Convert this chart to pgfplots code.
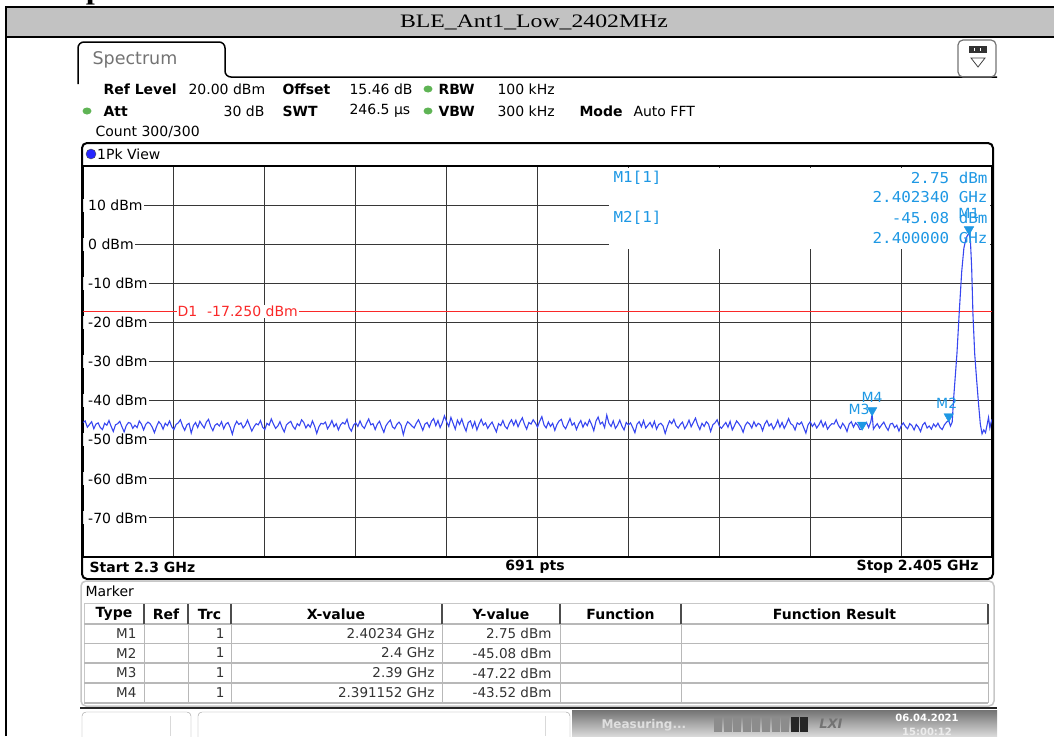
\documentclass[border=0pt]{standalone}
\usepackage{pgfplots}
\pgfplotsset{compat=1.18}
\usepackage{pgfplotstable}
\usepackage{fontspec}
\setmainfont{DejaVu Sans}
\newfontfamily\monofont[FakeStretch=1.06]{DejaVu Sans Mono}
\newfontfamily\titlefont[FakeStretch=1.25]{Liberation Serif}
\definecolor{mblue}{RGB}{30,152,228}
\definecolor{tracec}{RGB}{55,70,240}
\definecolor{gridc}{RGB}{55,55,55}
\definecolor{dred}{RGB}{250,40,40}
\definecolor{ledgreen}{RGB}{95,180,85}
\newcommand{\fs}[1]{\fontsize{#1}{#1}\selectfont}

% trace 1 (1Pk View), frequency in MHz, level in dBm
\pgfplotstableread[row sep=\\]{
f p\\
2300.00 -45.6\\ 2300.25 -45.2\\ 2300.50 -46.8\\ 2300.75 -46.1\\ 2301.00 -45.4\\ 2301.25 -47.2\\ 2301.50 -46.0\\ 2301.75 -45.7\\
2302.00 -46.9\\ 2302.25 -47.4\\ 2302.50 -45.8\\ 2302.75 -46.3\\ 2303.00 -45.1\\ 2303.25 -46.6\\ 2303.50 -47.9\\ 2303.75 -46.2\\
2304.00 -45.9\\ 2304.25 -45.3\\ 2304.50 -46.7\\ 2304.75 -48.0\\ 2305.00 -46.4\\ 2305.25 -45.6\\ 2305.50 -45.8\\ 2305.75 -47.1\\
2306.00 -46.3\\ 2306.25 -46.9\\ 2306.50 -45.2\\ 2306.75 -46.0\\ 2307.00 -47.5\\ 2307.25 -46.1\\ 2307.50 -45.5\\ 2307.75 -45.9\\
2308.00 -46.8\\ 2308.25 -48.2\\ 2308.50 -46.6\\ 2308.75 -45.4\\ 2309.00 -46.0\\ 2309.25 -47.3\\ 2309.50 -45.8\\ 2309.75 -46.4\\
2310.00 -45.2\\ 2310.25 -46.7\\ 2310.50 -47.4\\ 2310.75 -46.1\\ 2311.00 -45.7\\ 2311.25 -44.9\\ 2311.50 -46.5\\ 2311.75 -47.6\\
2312.00 -46.2\\ 2312.25 -45.8\\ 2312.50 -48.3\\ 2312.75 -46.4\\ 2313.00 -45.6\\ 2313.25 -46.9\\ 2313.50 -45.3\\ 2313.75 -46.2\\
2314.00 -47.0\\ 2314.25 -45.5\\ 2314.50 -44.8\\ 2314.75 -46.6\\ 2315.00 -47.7\\ 2315.25 -46.3\\ 2315.50 -45.9\\ 2315.75 -46.5\\
2316.00 -45.4\\ 2316.25 -47.2\\ 2316.50 -46.0\\ 2316.75 -45.6\\ 2317.00 -46.8\\ 2317.25 -48.6\\ 2317.50 -46.5\\ 2317.75 -45.3\\
2318.00 -46.1\\ 2318.25 -45.7\\ 2318.50 -47.0\\ 2318.75 -46.3\\ 2319.00 -45.0\\ 2319.25 -46.4\\ 2319.50 -47.8\\ 2319.75 -46.7\\
2320.00 -45.9\\ 2320.25 -46.2\\ 2320.50 -45.1\\ 2320.75 -46.8\\ 2321.00 -47.4\\ 2321.25 -45.8\\ 2321.50 -46.3\\ 2321.75 -44.7\\
2322.00 -46.0\\ 2322.25 -47.1\\ 2322.50 -46.5\\ 2322.75 -45.4\\ 2323.00 -46.9\\ 2323.25 -48.0\\ 2323.50 -46.2\\ 2323.75 -45.7\\
2324.00 -45.3\\ 2324.25 -46.6\\ 2324.50 -47.3\\ 2324.75 -45.9\\ 2325.00 -46.4\\ 2325.25 -44.9\\ 2325.50 -45.6\\ 2325.75 -47.0\\
2326.00 -46.1\\ 2326.25 -46.8\\ 2326.50 -45.2\\ 2326.75 -46.5\\ 2327.00 -48.4\\ 2327.25 -46.7\\ 2327.50 -45.8\\ 2327.75 -46.0\\
2328.00 -45.5\\ 2328.25 -47.2\\ 2328.50 -46.3\\ 2328.75 -45.1\\ 2329.00 -46.7\\ 2329.25 -45.9\\ 2329.50 -47.5\\ 2329.75 -46.2\\
2330.00 -45.6\\ 2330.25 -46.0\\ 2330.50 -44.8\\ 2330.75 -46.9\\ 2331.00 -47.8\\ 2331.25 -46.3\\ 2331.50 -45.7\\ 2331.75 -46.6\\
2332.00 -45.2\\ 2332.25 -46.5\\ 2332.50 -47.1\\ 2332.75 -45.8\\ 2333.00 -44.7\\ 2333.25 -46.2\\ 2333.50 -45.9\\ 2333.75 -47.4\\
2334.00 -46.0\\ 2334.25 -45.3\\ 2334.50 -46.8\\ 2334.75 -48.1\\ 2335.00 -46.4\\ 2335.25 -45.6\\ 2335.50 -45.0\\ 2335.75 -46.7\\
2336.00 -47.2\\ 2336.25 -46.1\\ 2336.50 -45.5\\ 2336.75 -46.3\\ 2337.00 -48.7\\ 2337.25 -46.6\\ 2337.50 -45.4\\ 2337.75 -45.9\\
2338.00 -46.5\\ 2338.25 -47.0\\ 2338.50 -45.8\\ 2338.75 -44.9\\ 2339.00 -46.2\\ 2339.25 -47.6\\ 2339.50 -46.0\\ 2339.75 -45.6\\
2340.00 -46.8\\ 2340.25 -45.3\\ 2340.50 -44.6\\ 2340.75 -46.4\\ 2341.00 -45.1\\ 2341.25 -46.9\\ 2341.50 -45.7\\ 2341.75 -43.9\\
2342.00 -45.4\\ 2342.25 -46.6\\ 2342.50 -44.3\\ 2342.75 -45.8\\ 2343.00 -47.3\\ 2343.25 -45.0\\ 2343.50 -46.1\\ 2343.75 -44.7\\
2344.00 -46.5\\ 2344.25 -47.8\\ 2344.50 -45.6\\ 2344.75 -45.2\\ 2345.00 -46.9\\ 2345.25 -45.4\\ 2345.50 -47.5\\ 2345.75 -46.0\\
2346.00 -44.8\\ 2346.25 -46.3\\ 2346.50 -45.7\\ 2346.75 -47.1\\ 2347.00 -46.2\\ 2347.25 -45.5\\ 2347.50 -46.8\\ 2347.75 -48.0\\
2348.00 -45.9\\ 2348.25 -46.4\\ 2348.50 -45.1\\ 2348.75 -46.6\\ 2349.00 -47.2\\ 2349.25 -45.8\\ 2349.50 -44.9\\ 2349.75 -46.3\\
2350.00 -45.0\\ 2350.25 -46.7\\ 2350.50 -45.4\\ 2350.75 -44.4\\ 2351.00 -46.1\\ 2351.25 -47.3\\ 2351.50 -45.6\\ 2351.75 -46.0\\
2352.00 -44.9\\ 2352.25 -45.7\\ 2352.50 -46.8\\ 2352.75 -45.3\\ 2353.00 -44.1\\ 2353.25 -46.2\\ 2353.50 -47.0\\ 2353.75 -45.5\\
2354.00 -46.6\\ 2354.25 -45.8\\ 2354.50 -47.6\\ 2354.75 -46.1\\ 2355.00 -45.2\\ 2355.25 -44.8\\ 2355.50 -46.5\\ 2355.75 -47.2\\
2356.00 -45.9\\ 2356.25 -44.6\\ 2356.50 -46.3\\ 2356.75 -45.7\\ 2357.00 -47.4\\ 2357.25 -46.0\\ 2357.50 -45.1\\ 2357.75 -46.8\\
2358.00 -45.6\\ 2358.25 -46.4\\ 2358.50 -44.9\\ 2358.75 -46.1\\ 2359.00 -47.7\\ 2359.25 -45.3\\ 2359.50 -44.2\\ 2359.75 -46.0\\
2360.00 -45.5\\ 2360.25 -46.9\\ 2360.50 -43.7\\ 2360.75 -45.8\\ 2361.00 -46.6\\ 2361.25 -45.2\\ 2361.50 -47.1\\ 2361.75 -46.3\\
2362.00 -45.0\\ 2362.25 -46.5\\ 2362.50 -47.5\\ 2362.75 -45.6\\ 2363.00 -46.2\\ 2363.25 -45.7\\ 2363.50 -46.9\\ 2363.75 -48.2\\
2364.00 -46.0\\ 2364.25 -45.4\\ 2364.50 -46.7\\ 2364.75 -45.1\\ 2365.00 -47.0\\ 2365.25 -46.3\\ 2365.50 -45.6\\ 2365.75 -46.8\\
2366.00 -45.3\\ 2366.25 -47.3\\ 2366.50 -46.1\\ 2366.75 -45.8\\ 2367.00 -46.5\\ 2367.25 -48.4\\ 2367.50 -46.6\\ 2367.75 -45.2\\
2368.00 -45.9\\ 2368.25 -44.8\\ 2368.50 -46.4\\ 2368.75 -47.0\\ 2369.00 -46.1\\ 2369.25 -45.5\\ 2369.50 -47.2\\ 2369.75 -46.3\\
2370.00 -45.0\\ 2370.25 -46.7\\ 2370.50 -45.6\\ 2370.75 -44.5\\ 2371.00 -46.2\\ 2371.25 -47.4\\ 2371.50 -45.8\\ 2371.75 -46.6\\
2372.00 -45.4\\ 2372.25 -46.0\\ 2372.50 -47.9\\ 2372.75 -46.2\\ 2373.00 -45.7\\ 2373.25 -44.9\\ 2373.50 -46.5\\ 2373.75 -47.1\\
2374.00 -46.3\\ 2374.25 -45.6\\ 2374.50 -46.8\\ 2374.75 -45.3\\ 2375.00 -47.5\\ 2375.25 -46.4\\ 2375.50 -45.2\\ 2375.75 -45.9\\
2376.00 -46.7\\ 2376.25 -48.1\\ 2376.50 -46.3\\ 2376.75 -45.5\\ 2377.00 -46.0\\ 2377.25 -47.0\\ 2377.50 -45.4\\ 2377.75 -46.6\\
2378.00 -45.8\\ 2378.25 -46.2\\ 2378.50 -47.7\\ 2378.75 -46.0\\ 2379.00 -45.1\\ 2379.25 -46.5\\ 2379.50 -45.9\\ 2379.75 -47.3\\
2380.00 -46.4\\ 2380.25 -45.0\\ 2380.50 -46.8\\ 2380.75 -45.6\\ 2381.00 -47.1\\ 2381.25 -46.0\\ 2381.50 -44.6\\ 2381.75 -45.9\\
2382.00 -46.3\\ 2382.25 -47.5\\ 2382.50 -45.7\\ 2382.75 -46.1\\ 2383.00 -45.5\\ 2383.25 -46.9\\ 2383.50 -48.3\\ 2383.75 -46.2\\
2384.00 -45.4\\ 2384.25 -46.6\\ 2384.50 -45.8\\ 2384.75 -47.0\\ 2385.00 -46.2\\ 2385.25 -45.1\\ 2385.50 -46.7\\ 2385.75 -45.6\\
2386.00 -47.3\\ 2386.25 -46.5\\ 2386.50 -45.9\\ 2386.75 -46.0\\ 2387.00 -44.9\\ 2387.25 -46.3\\ 2387.50 -47.1\\ 2387.75 -45.8\\
2388.00 -46.6\\ 2388.25 -47.9\\ 2388.50 -46.0\\ 2388.75 -45.4\\ 2389.00 -46.8\\ 2389.25 -45.7\\ 2389.50 -46.3\\ 2389.75 -47.4\\
2390.00 -47.22\\ 2390.25 -46.3\\ 2390.50 -45.6\\ 2390.75 -46.9\\ 2391.00 -45.4\\ 2391.152 -43.52\\ 2391.30 -47.3\\ 2391.50 -46.6\\ 2391.75 -45.9\\
2392.00 -47.0\\ 2392.25 -46.2\\ 2392.50 -45.5\\ 2392.75 -46.7\\ 2393.00 -47.6\\ 2393.25 -46.0\\ 2393.50 -45.8\\ 2393.75 -46.9\\
2394.00 -46.3\\ 2394.25 -47.8\\ 2394.50 -46.5\\ 2394.75 -45.7\\ 2395.00 -46.6\\ 2395.25 -47.2\\ 2395.50 -45.9\\ 2395.75 -46.4\\
2396.00 -47.5\\ 2396.25 -46.1\\ 2396.50 -46.8\\ 2396.75 -47.9\\ 2397.00 -46.2\\ 2397.25 -45.6\\ 2397.50 -47.0\\ 2397.75 -46.5\\
2398.00 -47.3\\ 2398.25 -46.0\\ 2398.50 -46.7\\ 2398.75 -45.8\\ 2399.00 -46.9\\ 2399.25 -47.4\\ 2399.50 -46.2\\ 2399.75 -45.5\\
2400.0 -45.08\\ 2400.2 -46.5\\ 2400.4 -45.5\\ 2400.55 -40\\ 2400.75 -34\\ 2400.95 -28\\ 2401.2 -18\\ 2401.5 -7\\ 2401.75 -1\\ 2402.0 1.5\\
2402.2 2.4\\ 2402.34 2.75\\ 2402.5 1.2\\ 2402.65 -6\\ 2402.8 -18\\ 2403.0 -28\\ 2403.2 -34\\ 2403.45 -41\\ 2403.65 -46\\ 2403.85 -48.5\\
2404.05 -47.5\\ 2404.25 -48.2\\ 2404.45 -46.0\\ 2404.6 -44.3\\ 2404.75 -47.0\\ 2404.9 -45.5\\ 2405.0 -44.8\\
}\tracedata

\begin{document}
\begin{tikzpicture}[x=1pt,y=-1pt]
\useasboundingbox (0,0) rectangle (1054,736);
\clip (0,0) rectangle (1054,736);

% document table cell
\node[anchor=base, inner sep=0, font=\titlefont\bfseries\fs{26}] at (95,-1) {p};
\fill[black!24] (6,7) rectangle (1054,37);
\node[font=\titlefont\fs{19}] at (534,22) {BLE\_Ant1\_Low\_2402MHz};
\draw[line width=2pt] (6,736) -- (6,7) -- (1054,7);
\draw[line width=2pt] (6,37) -- (1054,37);

% tab and top bar
\draw[line width=1.5pt, rounded corners=6pt] (78,84) -- (78,42) -- (225,42) -- (225,77) -- (997,77);
\node[anchor=west, text=black!55, font=\fs{17.5}] at (89,60) {Spectrum};
\draw[black!55, line width=1.2pt, rounded corners=5pt] (958,40) rectangle (996,77);
\fill[black!80] (969,46) rectangle (987,53);
\foreach \k in {974,980} \fill[white] (\k,48) rectangle (\k+1,51);
\draw[black!75, line width=0.8pt] (971,58) -- (985,58) -- (978,67) -- cycle;

% settings
\fill[ledgreen] (428,89) ellipse (4.5 and 3.5);
\fill[ledgreen] (87,111) ellipse (4.5 and 3.5);
\fill[ledgreen] (428,111) ellipse (4.5 and 3.5);
\begin{scope}[font=\fs{14}]
\node[anchor=west, font=\fs{14}\bfseries] at (100,89) {Ref Level};
\node[anchor=west] at (185,89) {20.00 dBm};
\node[anchor=west, font=\fs{14}\bfseries] at (279,89) {Offset};
\node[anchor=west] at (346,89) {15.46 dB};
\node[anchor=west, font=\fs{14}\bfseries] at (435,89) {RBW};
\node[anchor=west] at (494,89) {100 kHz};
\node[anchor=west, font=\fs{14}\bfseries] at (100,111) {Att};
\node[anchor=east] at (268,111) {30 dB};
\node[anchor=west, font=\fs{14}\bfseries] at (279,111) {SWT};
\node[anchor=west] at (346,111) {246.5 µs};
\node[anchor=west, font=\fs{14}\bfseries] at (435,111) {VBW};
\node[anchor=west] at (494,111) {300 kHz};
\node[anchor=west, font=\fs{14}\bfseries] at (576,111) {Mode};
\node[anchor=west] at (630,111) {Auto FFT};
\node[anchor=west] at (92,132) {Count 300/300};
\end{scope}

% spectrum window
\filldraw[fill=blue!85!white, draw=black!70] (91,154) circle (5);
\node[anchor=west, font=\fs{14}, inner sep=1pt] at (96,154) {1Pk View};

\begin{scope}[x=1cm,y=1cm]
\begin{axis}[
  at={(83pt,-557pt)}, anchor=south west,
  width=909pt, height=391pt, scale only axis,
  xmin=2300, xmax=2405, ymin=-80, ymax=20,
  axis line style={black, line width=1.8pt},
  xtick={2310.5,2321,2331.5,2342,2352.5,2363,2373.5,2384,2394.5},
  xticklabels={},
  ytick={-70,-60,...,10},
  yticklabels={\hspace*{4pt}-70 dBm,\hspace*{4pt}-60 dBm,\hspace*{4pt}-50 dBm,\hspace*{4pt}-40 dBm,\hspace*{4pt}-30 dBm,\hspace*{4pt}-20 dBm,\hspace*{4pt}-10 dBm,\hspace*{4pt}0 dBm,\hspace*{4pt}10 dBm},
  major tick length=0pt,
  grid=major,
  major grid style={gridc, line width=1.1pt},
  yticklabel style={anchor=west, xshift=0pt, fill=white, inner xsep=1pt, inner ysep=1pt, font=\fs{14}},
]
\fill[white] (axis cs:2360.8,19.6) rectangle (axis cs:2404.8,-1.3);
\addplot[dred, line width=1pt] coordinates {(2300,-17.25) (2405,-17.25)};
\node[anchor=west, text=dred, fill=white, inner sep=1pt, font=\fs{14}] at (axis cs:2310.8,-17.25) {D1\hspace{0.7em}-17.250 dBm};
\addplot[tracec, line width=1.1pt] table[x=f, y=p] {\tracedata};
\addplot[only marks, mark=triangle*, mark size=5.5pt,
  mark options={fill=mblue, draw=mblue, yshift=4pt, rotate=180}]
  coordinates {(2402.34,2.75) (2400,-45.08) (2390,-47.22) (2391.152,-43.52)};
\begin{scope}[text=mblue, font=\fs{14}]
\node at (axis cs:2402.34,2.75) [yshift=20pt] {M1};
\node at (axis cs:2400,-45.08) [yshift=17pt, xshift=-2pt] {M2};
\node at (axis cs:2390,-47.22) [yshift=19pt, xshift=-3pt] {M3};
\node at (axis cs:2391.152,-43.52) [yshift=17pt] {M4};
\end{scope}
\end{axis}
\end{scope}

\draw[line width=2pt, rounded corners=5pt] (82,143) rectangle (993,579);

% marker info
\begin{scope}[text=mblue, font=\monofont\fs{15}]
\node[anchor=west] at (610,178) {M1[1]};
\node[anchor=west] at (610,218) {M2[1]};
\node[anchor=east] at (991,178) {2.75 dBm};
\node[anchor=east] at (991,197) {2.402340 GHz};
\node[anchor=east] at (991,218) {-45.08 dBm};
\node[anchor=east] at (991,238) {2.400000 GHz};
\end{scope}

% bottom line of diagram
\node[anchor=west, font=\fs{14}\bfseries] at (86,567) {Start 2.3 GHz};
\node[font=\fs{14}\bfseries] at (535,567) {691 pts};
\node[anchor=east, font=\fs{14}\bfseries] at (982,567) {Stop 2.405 GHz};

% marker table
\draw[black!22, line width=1.5pt, rounded corners=5pt] (81,581) rectangle (994,706);
\node[anchor=west, font=\fs{14}] at (82,591) {Marker};
\draw[black!22, line width=1pt] (84,603) -- (988,603);
\draw[black!22, line width=1pt] (84,603) -- (84,703);
\foreach \xx in {624,643.5,663,683,703} \draw[black!28, line width=1.2pt] (84,\xx) -- (988,\xx);
\foreach \xx in {144,188,231,442,560,681,988} {
  \draw[black!28, line width=1pt] (\xx,624) -- (\xx,703);
  \draw[black!70, line width=1.5pt] (\xx,604) -- (\xx,624);
}
\begin{scope}[font=\fs{14}\bfseries]
\node at (114,614) {Type};
\node at (166,614) {Ref};
\node at (209.5,614) {Trc};
\node at (336,614) {X-value};
\node at (501,614) {Y-value};
\node at (620.5,614) {Function};
\node at (834.5,614) {Function Result};
\end{scope}
\begin{scope}[font=\fs{13.5}, text=black!80]
\node[anchor=east] at (140,633.5) {M1};
\node[anchor=east] at (140,653) {M2};
\node[anchor=east] at (140,673) {M3};
\node[anchor=east] at (140,692.5) {M4};
\foreach \yy in {633.5,653,673,692.5} \node[anchor=east] at (228,\yy) {1};
\node[anchor=east] at (438,633.5) {2.40234 GHz};
\node[anchor=east] at (438,653) {2.4 GHz};
\node[anchor=east] at (438,673) {2.39 GHz};
\node[anchor=east] at (438,692.5) {2.391152 GHz};
\node[anchor=east] at (555,633.5) {2.75 dBm};
\node[anchor=east] at (555,653) {-45.08 dBm};
\node[anchor=east] at (555,673) {-47.22 dBm};
\node[anchor=east] at (555,692.5) {-43.52 dBm};
\end{scope}

% status bar
\draw[line width=2pt, black!85] (80,708) -- (997,708);
\draw[black!40, rounded corners=4pt] (82,712) rectangle (191,745);
\draw[black!15] (170,716) -- (170,736);
\draw[black!40, rounded corners=4pt] (198,712) rectangle (570,745);
\draw[black!15] (545,716) -- (545,736);
\shade[top color=black!55, bottom color=black!15] (572,710) rectangle (997,736);
\node[anchor=west, text=white!75!gray, font=\fs{12}\bfseries] at (598,725) {Measuring...};
\foreach \i in {0,...,7} \fill[black!45] (714+\i*9.6,717) rectangle +(8,15);
\fill[black!85] (791,717) rectangle +(8,15);
\fill[black!85] (800,717) rectangle +(8,15);
\node[text=black!55, font=\fs{13}\bfseries\itshape] at (831,724) {LXI};
\node[text=white, font=\fs{10}\bfseries] at (927,718) {06.04.2021};
\node[text=white!85!gray, font=\fs{10}\bfseries] at (927,732) {15:00:12};
\end{tikzpicture}
\end{document}
